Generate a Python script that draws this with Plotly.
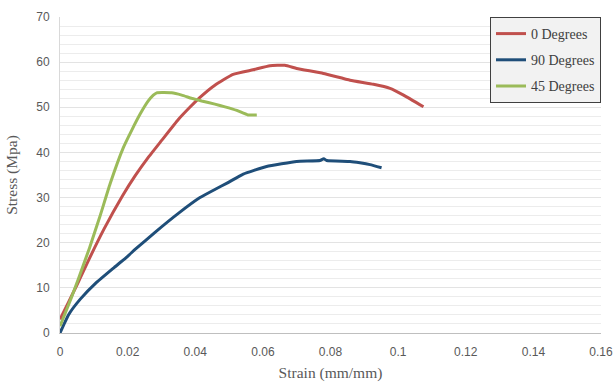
import plotly.graph_objects as go

# Stress-strain curves for three fibre orientations
strain_0 = [0.0, 0.0025, 0.005, 0.0085, 0.013, 0.0185, 0.0222, 0.026, 0.030, 0.035,
            0.0384, 0.0414, 0.0458, 0.0512, 0.0571, 0.0621, 0.0665, 0.070, 0.0779,
            0.0858, 0.0927, 0.0976, 0.1016, 0.1075]
stress_0 = [3.0, 6.8, 10.6, 16.2, 23.0, 30.4, 34.8, 38.8, 42.6, 47.3,
            50.0, 52.2, 54.9, 57.3, 58.3, 59.2, 59.3, 58.6, 57.5,
            56.0, 55.1, 54.2, 52.7, 50.1]

strain_90 = [0.0, 0.0025, 0.006, 0.0105, 0.016, 0.020, 0.0222, 0.0281, 0.035,
             0.0414, 0.0458, 0.0494, 0.0542, 0.0611, 0.070, 0.0769, 0.078, 0.0789,
             0.0858, 0.0887, 0.0917, 0.0951]
stress_90 = [0.0, 4.0, 7.5, 11.0, 14.5, 17.0, 18.5, 22.3, 26.5,
             30.0, 31.8, 33.2, 35.2, 36.9, 38.0, 38.2, 38.6, 38.2,
             38.0, 37.7, 37.3, 36.6]

strain_45 = [0.0, 0.00345, 0.0054, 0.0087, 0.0118, 0.0148, 0.0187, 0.0212, 0.0237,
             0.0261, 0.0276, 0.0286, 0.033, 0.036, 0.0389, 0.0419, 0.0458, 0.0488,
             0.0523, 0.0556, 0.0582]
stress_45 = [1.5, 8.0, 11.9, 18.8, 25.8, 33.0, 41.0, 44.9, 48.5,
             51.4, 52.7, 53.2, 53.2, 52.7, 52.0, 51.4, 50.7, 50.1,
             49.3, 48.3, 48.3]

series = [
    ("0 Degrees", strain_0, stress_0, "#C0504D"),
    ("90 Degrees", strain_90, stress_90, "#1F4E79"),
    ("45 Degrees", strain_45, stress_45, "#9BBB59"),
]

x_ticks = [0, 0.02, 0.04, 0.06, 0.08, 0.1, 0.12, 0.14, 0.16]
x_tick_labels = ["0", "0.02", "0.04", "0.06", "0.08", "0.1", "0.12", "0.14", "0.16"]
y_ticks = [0, 10, 20, 30, 40, 50, 60, 70]

fig = go.Figure()
for i, (name, xs, ys, color) in enumerate(series):
    fig.add_trace(go.Scatter(
        x=xs, y=ys, mode="lines", name=name, legendgroup=f"g{i}",
        line=dict(color=color, width=3, shape="spline", smoothing=0.4),
    ))

fig.update_layout(
    width=614, height=384,
    margin=dict(l=60, r=13, t=17, b=51),
    paper_bgcolor="white", plot_bgcolor="white",
    showlegend=True,
    legend=dict(
        x=1.0, y=1.0, xanchor="right", yanchor="top",
        bgcolor="#F2F2F2", bordercolor="#404040", borderwidth=1,
        font=dict(family="Liberation Serif", size=14, color="#404040"),
        tracegroupgap=5,
    ),
    xaxis=dict(
        range=[0, 0.16], tickvals=x_ticks, ticktext=x_tick_labels,
        automargin=False,
        showgrid=False, zeroline=False,
        showline=True, linecolor="#BFBFBF", linewidth=1,
        ticks="", ticklabelstandoff=8,
        tickfont=dict(family="Liberation Sans", size=12, color="#595959"),
        title=dict(text="Strain (mm/mm)", standoff=8,
                   font=dict(family="Liberation Serif", size=15.5, color="#595959")),
    ),
    yaxis=dict(
        range=[0, 70], tickvals=y_ticks,
        automargin=False,
        showgrid=True, gridcolor="#E3E3E3", gridwidth=1,
        minor=dict(dtick=2, showgrid=True, gridcolor="#ECECEC", gridwidth=1),
        zeroline=False,
        showline=True, linecolor="#D9D9D9", linewidth=1,
        ticks="", ticklabelstandoff=7,
        tickfont=dict(family="Liberation Sans", size=12, color="#595959"),
        title=dict(text="Stress (Mpa)", standoff=14,
                   font=dict(family="Liberation Serif", size=15.5, color="#595959")),
    ),
)

fig.write_html("out.html")
